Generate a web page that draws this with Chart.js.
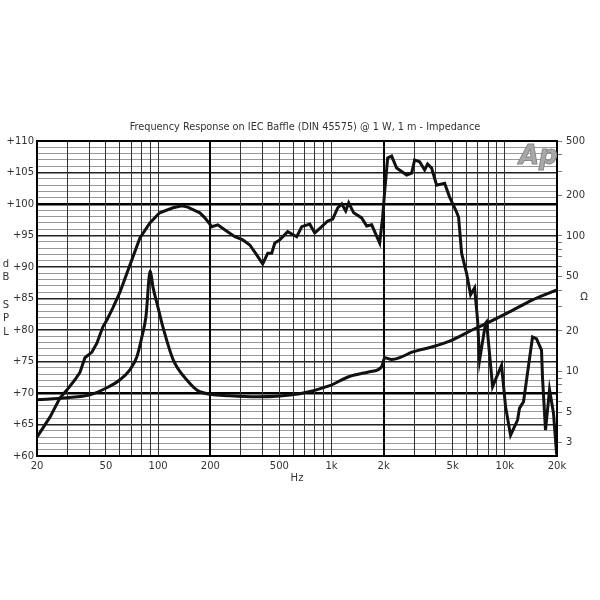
<!DOCTYPE html>
<html>
<head>
<meta charset="utf-8">
<script src="https://cdn.jsdelivr.net/npm/chart.js@4.4.0/dist/chart.umd.min.js"></script>
<style>
  html, body { margin: 0; padding: 0; background: #fff; }
  #wrap { width: 600px; height: 600px; }
</style>
</head>
<body>
<div id="wrap"><canvas id="freqChart" width="600" height="600"></canvas></div>
<script>
// SPL curve (dB, left axis)
const splFreq = [20, 23.8, 27.1, 29.8, 33.1, 35.4, 37.8, 41.5, 44.3, 48.0, 50.6, 54.8, 60.2, 68.7, 78.5, 89.6,
  102, 122, 137, 148, 174, 186, 204, 221, 242, 277, 308, 338, 371, 401, 429, 452, 471, 503, 559, 630, 674,
  749, 801, 879, 951, 1016, 1086, 1146, 1208, 1257, 1343, 1494, 1596, 1706, 1897, 1973, 2027, 2109, 2224,
  2376, 2715, 2900, 3018, 3225, 3446, 3586, 3782, 4042, 4494, 4802, 5270, 5412, 5632, 6018, 6347, 6693,
  6963, 7150, 7745, 7848, 8498, 9574, 10100, 10790, 11840, 12160, 12820, 14450, 15240, 16280, 16500,
  17170, 18110, 19090, 19900];
const splDb = [63.0, 66.2, 69.2, 70.5, 72.1, 73.3, 75.6, 76.5, 77.9, 80.5, 81.6, 83.5, 86.0, 90.3, 94.6, 97.0,
  98.6, 99.4, 99.7, 99.5, 98.6, 97.8, 96.4, 96.7, 95.9, 94.8, 94.3, 93.5, 91.9, 90.5, 92.2, 92.2, 93.8, 94.3,
  95.6, 94.8, 96.4, 96.8, 95.4, 96.4, 97.3, 97.6, 99.4, 100.0, 98.9, 100.2, 98.6, 97.8, 96.5, 96.7, 93.8,
  97.9, 102.0, 107.3, 107.6, 105.7, 104.6, 104.9, 107.0, 106.7, 105.4, 106.35, 105.7, 103.0, 103.3, 101.1,
  98.7, 97.9, 92.2, 89.0, 85.6, 86.7, 81.6, 75.2, 81.1, 81.3, 71.0, 74.4, 67.8, 63.3, 65.7, 67.6, 68.6,
  78.9, 78.6, 76.8, 72.4, 64.1, 70.5, 66.8, 60.2];

// Impedance curve (ohm, right axis)
const impFreq = [20, 29.8, 40.4, 50.6, 60.2, 68.7, 75.4, 80.6, 85.0, 90, 93.3, 99.6, 106.5, 122, 146, 174,
  259, 371, 656, 977, 1257, 1660, 1948, 2027, 2224, 2474, 2940, 3832, 5000, 6516, 8165, 10640, 14450, 20000];
const impOhm = [6.23, 6.44, 6.78, 7.63, 8.74, 10.35, 12.9, 18.1, 25.4, 55.4, 42.2, 30.1, 21.4, 12.3, 8.74, 7.13,
  6.67, 6.55, 6.9, 7.9, 9.2, 10.0, 10.9, 12.7, 12.3, 12.7, 14.0, 15.3, 17.2, 20.4, 23.3, 27.6, 33.9, 40.1];

// ticks
const xGridFreqs = [20, 30, 40, 50, 60, 70, 80, 90, 100, 200, 300, 400, 500, 600, 700, 800, 900, 1000,
  2000, 3000, 4000, 5000, 6000, 7000, 8000, 9000, 10000, 20000];
const xLabels = { 20: '20', 50: '50', 100: '100', 200: '200', 500: '500', 1000: '1k', 2000: '2k',
  5000: '5k', 10000: '10k', 20000: '20k' };
const xMajor = [20, 200, 2000, 20000];
const ohmTicks = [3, 4, 5, 6, 7, 8, 9, 10, 20, 30, 40, 50, 60, 70, 80, 90, 100, 200, 300, 400, 500];
const ohmLabels = [3, 5, 10, 20, 50, 100, 200, 500];
const dbThick = [70, 100];

const FONT = 'DejaVu Sans';

const decorPlugin = {
    id: 'decor',
    afterDraw(chart) {
        const ctx = chart.ctx;
        const a = chart.chartArea;
        ctx.save();
        // frame
        ctx.strokeStyle = '#000';
        ctx.lineWidth = 2;
        ctx.strokeRect(a.left, a.top, a.right - a.left, a.bottom - a.top);

        ctx.fillStyle = '#333';
        ctx.textAlign = 'center';
        ctx.textBaseline = 'middle';
        ctx.font = '10.8px "DejaVu Sans Condensed", "DejaVu Sans"';
        ctx.fillText('Frequency Response on IEC Baffle (DIN 45575) @ 1 W, 1 m - Impedance', 305, 127);

        ctx.font = '10px ' + FONT;
        const letters = [['d', 264], ['B', 277], ['S', 305], ['P', 318], ['L', 332]];
        letters.forEach(([t, y]) => ctx.fillText(t, 6, y));
        ctx.fillText('\u03A9', 584, 297);

        // Ap logo
        ctx.font = 'italic bold 26px ' + FONT;
        ctx.textAlign = 'left';
        ctx.textBaseline = 'alphabetic';
        ctx.fillStyle = '#a8a8a8';
        ctx.strokeStyle = '#888';
        ctx.lineWidth = 1;
        ctx.fillText('Ap', 519, 164);
        ctx.strokeText('Ap', 519, 164);
        ctx.restore();
    }
};

new Chart(document.getElementById('freqChart').getContext('2d'), {
    type: 'line',
    data: {
        datasets: [
            {
                label: 'SPL',
                data: splFreq.map((f, i) => ({ x: f, y: splDb[i] })),
                yAxisID: 'y',
                borderColor: '#111',
                borderWidth: 3,
                pointRadius: 0,
                tension: 0
            },
            {
                label: 'Impedance',
                data: impFreq.map((f, i) => ({ x: f, y: impOhm[i] })),
                yAxisID: 'y1',
                borderColor: '#111',
                borderWidth: 3,
                pointRadius: 0,
                cubicInterpolationMode: 'monotone'
            }
        ]
    },
    options: {
        responsive: false,
        animation: false,
        layout: { padding: { top: 141, left: 0, right: 0, bottom: 116 } },
        plugins: { legend: { display: false }, tooltip: { enabled: false }, title: { display: false } },
        scales: {
            x: {
                type: 'logarithmic',
                min: 20,
                max: 20000,
                afterBuildTicks: scale => { scale.ticks = xGridFreqs.map(v => ({ value: v })); },
                afterFit: scale => { scale.height = 28; },
                ticks: {
                    autoSkip: false,
                    maxRotation: 0,
                    padding: 4,
                    color: '#333',
                    font: { family: FONT, size: 10 },
                    callback: v => xLabels[v] || ''
                },
                grid: {
                    z: -1,
                    drawTicks: false,
                    color: c => xMajor.includes(c.tick && c.tick.value) ? '#000' : '#333',
                    lineWidth: c => xMajor.includes(c.tick && c.tick.value) ? 2 : 1
                },
                border: { display: false },
                title: { display: true, text: 'Hz', color: '#333', font: { family: FONT, size: 10 }, padding: { top: 2, bottom: 0 } }
            },
            y: {
                type: 'linear',
                position: 'left',
                min: 60,
                max: 110,
                afterFit: scale => { scale.width = 37; },
                ticks: {
                    stepSize: 1,
                    autoSkip: false,
                    padding: 3,
                    color: '#333',
                    font: { family: FONT, size: 10 },
                    callback: v => v % 5 === 0 ? '+' + v : ''
                },
                grid: {
                    z: -2,
                    drawTicks: false,
                    color: c => {
                        const v = c.tick && c.tick.value;
                        if (dbThick.includes(v)) return '#000';
                        return v % 5 === 0 ? '#222' : '#999';
                    },
                    lineWidth: c => {
                        const v = c.tick && c.tick.value;
                        if (dbThick.includes(v)) return 2.5;
                        return v % 5 === 0 ? 1.5 : 1;
                    }
                },
                border: { display: false }
            },
            y1: {
                type: 'logarithmic',
                position: 'right',
                min: 2.4,
                max: 500,
                afterBuildTicks: scale => { scale.ticks = ohmTicks.map(v => ({ value: v })); },
                afterFit: scale => { scale.width = 43; },
                ticks: {
                    autoSkip: false,
                    padding: 4,
                    color: '#333',
                    font: { family: FONT, size: 10 },
                    callback: v => ohmLabels.includes(v) ? String(v) : ''
                },
                grid: { drawOnChartArea: false, drawTicks: true, tickLength: 5, color: '#777' },
                border: { display: false }
            }
        }
    },
    plugins: [decorPlugin]
});
</script>
</body>
</html>
